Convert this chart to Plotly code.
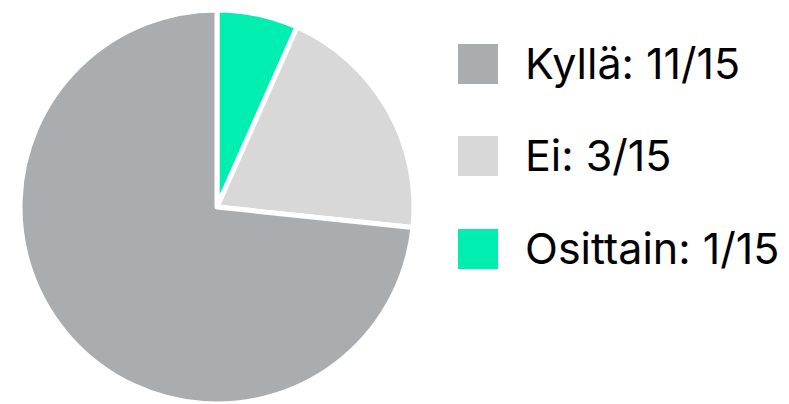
import plotly.graph_objects as go

# Data
labels = ["Osittain", "Ei", "Kyllä"]
values = [1, 3, 11]
total = sum(values)
colors = ["#00efb0", "#d8d8d8", "#a9adb0"]
legend_order = ["Kyllä", "Ei", "Osittain"]

W, H = 789, 404
OFF = 8  # page body offset

def px(x):
    return (x - OFF) / W

def py(y):
    return 1 - (y - OFF) / H

fig = go.Figure(go.Pie(
    labels=labels,
    values=values,
    sort=False,
    direction="clockwise",
    rotation=0,
    marker=dict(colors=colors, line=dict(color="white", width=5)),
    textinfo="none",
    hoverinfo="label+value",
    showlegend=False,
    domain=dict(x=[px(20), px(414)], y=[py(404), py(10)]),
))

# Manual legend with large square swatches
sq_top = [44, 136, 229]
sq_size = 40
sq_left = 458
text_left = 525
shapes = []
annotations = []
for i, name in enumerate(legend_order):
    idx = labels.index(name)
    t = sq_top[i]
    shapes.append(dict(
        type="rect", xref="paper", yref="paper",
        x0=px(sq_left), x1=px(sq_left + sq_size),
        y0=py(t + sq_size), y1=py(t),
        fillcolor=colors[idx], line=dict(width=0),
    ))
    annotations.append(dict(
        xref="paper", yref="paper",
        x=px(text_left - 2), y=py(t + sq_size / 2 - 1),
        xanchor="left", yanchor="middle",
        text=f"{name}: {values[idx]}/{total}",
        showarrow=False,
        font=dict(family="Inter", size=43, color="#000000"),
    ))

fig.update_layout(
    width=W, height=H,
    margin=dict(l=0, r=0, t=0, b=0),
    paper_bgcolor="white",
    plot_bgcolor="white",
    shapes=shapes,
    annotations=annotations,
    font=dict(family="Inter"),
)

fig.write_html("out.html")
